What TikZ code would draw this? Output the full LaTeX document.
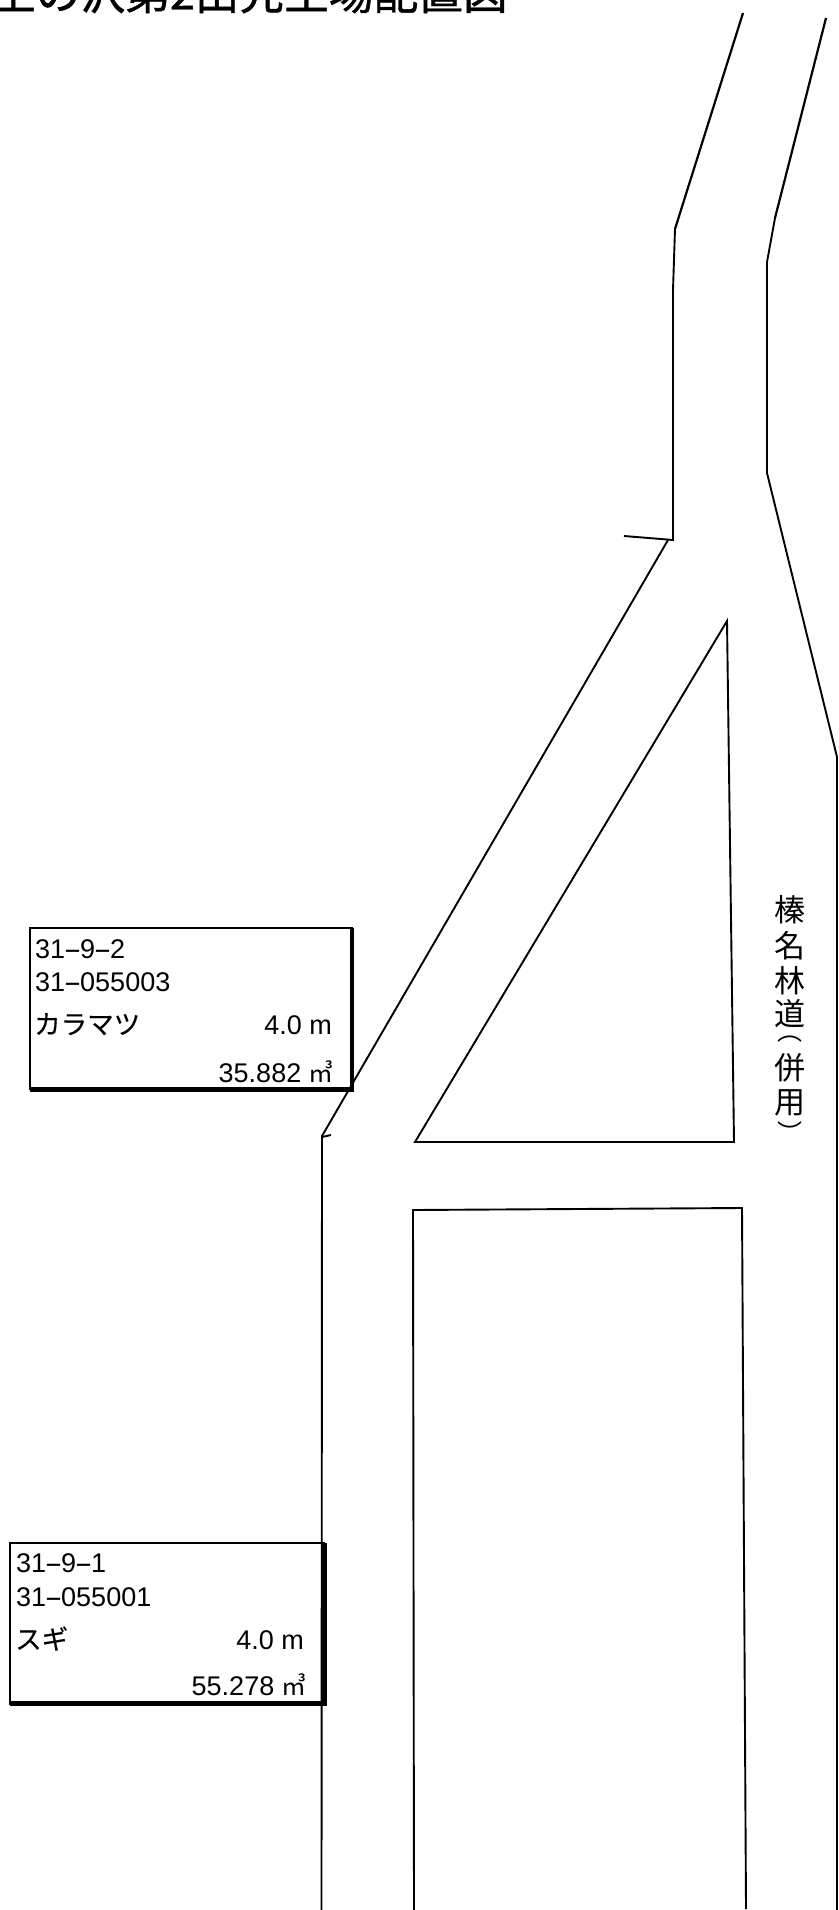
\documentclass[tikz,border=0pt]{standalone}
\usepackage{graphicx}
\usepackage{fontspec}
\setmainfont{Liberation Sans}
\newfontfamily\cjk{Noto Sans CJK JP}
\newfontfamily\cjkb[FakeBold=1]{Noto Sans CJK JP}
\newfontfamily\cjkm[FakeBold=0.3]{Noto Sans CJK JP}
\newcommand{\hy}{\hspace*{-1.5pt}\scalebox{2}[1]{-}\hspace*{-1.5pt}}
\newcommand{\vparen}[2]{\smash{\raisebox{#1}{\rotatebox[origin=c]{-90}{\fontsize{25}{25}\selectfont #2}}}}
\tikzset{
  road/.style={draw=black,line width=1.9pt,line join=miter},
  upper road/.style={draw=black,line width=2.2pt,line join=bevel},
  label box/.style={draw=black,line width=2pt},
  box shade/.style={draw=black,line width=4.2pt},
  code/.style={anchor=base west,inner sep=0pt,font=\fontsize{27}{27}\selectfont},
  species/.style={anchor=base west,inner sep=0pt,font=\cjkm\fontsize{26.5}{26.5}\selectfont},
  measure/.style={anchor=base east,inner sep=0pt,font=\fontsize{27}{27}\selectfont},
}
\begin{document}
\begin{tikzpicture}[x=1pt,y=-1pt]
\useasboundingbox (0,0) rectangle (838,1910);
% title (clipped by the page)
\begin{scope}
\clip (0,0) rectangle (838,1910);
\node[anchor=base west,inner sep=0pt,font=\cjkb\fontsize{44.7}{44.7}\selectfont] (title) at (-9,9.5) {土の沢第2出先土場配置図};
\end{scope}
% label box 1
\draw[label box] (30,928) rectangle (352,1089);
\draw[box shade] (352,928) -- (352,1089.5) -- (30,1089.5);
\node[code] (a1) at (35,958) {31\hy 9\hy 2};
\node[code] (a2) at (35,991) {31\hy 055003};
\node[species] (a3) at (34,1034) {カラマツ};
\node[measure] (a4) at (332,1034) {4.0 m};
\node[measure] (a5) at (334,1082) {35.882 {\cjk\fontsize{25}{25}\selectfont ㎥}};
% label box 2
\draw[label box] (10,1543) rectangle (324,1704);
\draw[box shade] (324.5,1543) -- (324.5,1703.5) -- (10,1703.5);
\node[code] (b1) at (16,1572) {31\hy 9\hy 1};
\node[code] (b2) at (16,1606) {31\hy 055001};
\node[species] (b3) at (15,1649) {スギ};
\node[measure] (b4) at (304,1649) {4.0 m};
\node[measure] (b5) at (307,1695) {55.278 {\cjk\fontsize{25}{25}\selectfont ㎥}};
% road lines
\draw[upper road] (743,13) -- (675,229);
\draw[road] (675,229) -- (673,290) -- (673,540) -- (624,536);
\draw[road] (668,540) -- (322,1136) -- (321.5,1910);
\draw[road] (322,1137) -- (331,1135);
\draw[upper road] (826,18) -- (775,218);
\draw[road] (775,218) -- (767,262) -- (767,473) -- (837,757) -- (837,1910);
% triangle and lower plot
\draw[road] (727,621) -- (734,1142) -- (415,1142) -- cycle;
\draw[road] (414,1910) -- (413,1210) -- (742,1208) -- (746,1909);
% vertical road name
\node[anchor=north,inner sep=0pt,align=center,font=\cjk\fontsize{31}{36}\selectfont] (roadname) at (790,895) {榛\\名\\[-1pt]林\\[-3pt]道\\[-8pt]\vparen{13pt}{（}\\[-10pt]併\\[-2pt]用\\[-13pt]\vparen{-6pt}{）}};
\end{tikzpicture}
\end{document}
